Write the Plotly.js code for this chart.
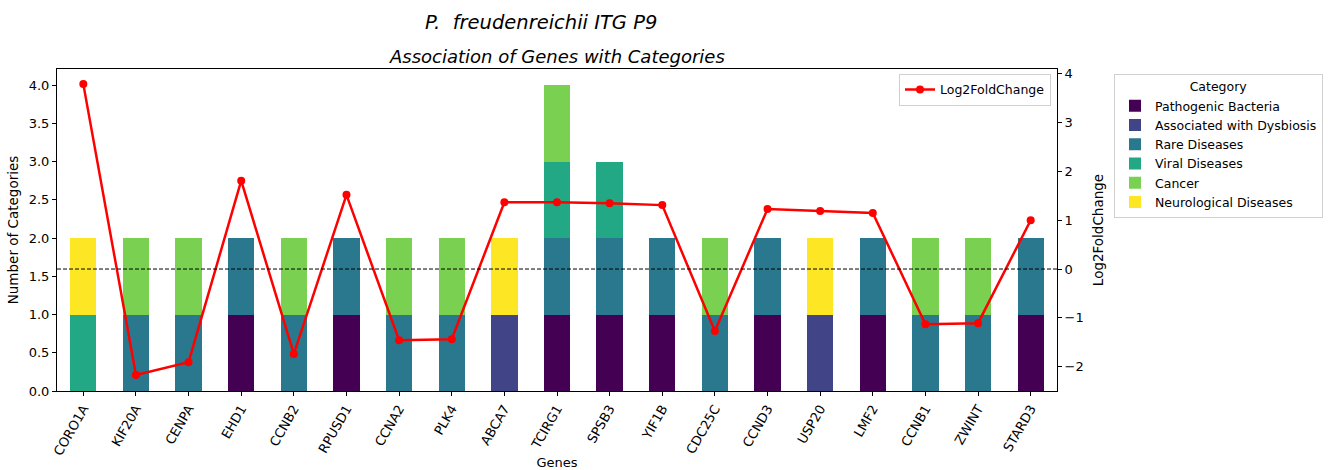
<!DOCTYPE html>
<html><head><meta charset="utf-8">
<script src="https://cdn.plot.ly/plotly-3.0.1.min.js"></script>
<style>html,body{margin:0;padding:0;background:#fff}#chart{width:1329px;height:470px}</style>
</head><body><div id="chart"></div>
<script>
const genes = ["CORO1A","KIF20A","CENPA","EHD1","CCNB2","RPUSD1","CCNA2","PLK4","ABCA7","TCIRG1","SPSB3","YIF1B","CDC25C","CCND3","USP20","LMF2","CCNB1","ZWINT","STARD3"];
const categories = ["Pathogenic Bacteria","Associated with Dysbiosis","Rare Diseases","Viral Diseases","Cancer","Neurological Diseases"];
const pathogenic = [0,0,0,1,0,1,0,0,0,1,1,1,0,1,0,1,0,0,1];
const dysbiosis  = [0,0,0,0,0,0,0,0,1,0,0,0,0,0,1,0,0,0,0];
const rare       = [0,1,1,1,1,1,1,1,0,1,1,1,1,1,0,1,1,1,1];
const viral      = [1,0,0,0,0,0,0,0,0,1,1,0,0,0,0,0,0,0,0];
const cancer     = [0,1,1,0,1,0,1,1,0,1,0,0,1,0,0,0,1,1,0];
const neuro      = [1,0,0,0,0,0,0,0,1,0,0,0,0,0,1,0,0,0,0];
const log2fc = [3.79,-2.17,-1.91,1.81,-1.74,1.52,-1.46,-1.44,1.37,1.37,1.35,1.31,-1.27,1.23,1.19,1.15,-1.13,-1.11,1.00];

const seriesVals = [pathogenic,dysbiosis,rare,viral,cancer,neuro];
const colors = ["#440154","#414487","#2a788e","#22a884","#7ad151","#fde725"];
const xi = genes.map((g,i)=>i);

const traces = categories.map((c,k)=>({
  type:'bar', x:xi, y:seriesVals[k], name:c,
  marker:{color:colors[k], line:{width:0}}, width:0.5,
  legend:'legend', hoverinfo:'x+y+name'
}));
traces.push({
  type:'scatter', mode:'lines+markers', x:xi, y:log2fc, yaxis:'y2',
  name:'Log2FoldChange', line:{color:'#ff0000', width:2.5},
  marker:{color:'#ff0000', size:8}, legend:'legend2'
});

const font = {family:'DejaVu Sans, sans-serif', size:13, color:'#000'};
const layout = {
  width:1329, height:470,
  margin:{l:57, r:272, t:69, b:79, autoexpand:false},
  barmode:'stack', bargap:0.5,
  paper_bgcolor:'#fff', plot_bgcolor:'#fff',
  font:font,
  xaxis:{range:[-0.5,18.5], tickmode:'array', tickvals:xi, ticktext:genes, tickangle:-60, automargin:false,
    showline:true, linecolor:'#000', linewidth:1, mirror:true, ticks:'outside', ticklen:4,
    tickcolor:'#000', showgrid:false, zeroline:false,
    title:{text:'Genes', font:{size:13}, standoff:4}, tickfont:{size:13}},
  yaxis:{range:[0,4.21], tickvals:[0,0.5,1,1.5,2,2.5,3,3.5,4], ticktext:['0.0','0.5','1.0','1.5','2.0','2.5','3.0','3.5','4.0'], automargin:false,
    showline:true, linecolor:'#000', linewidth:1, ticks:'outside', ticklen:4, tickcolor:'#000',
    showgrid:false, zeroline:false, title:{text:'Number of Categories', font:{size:13.5}, standoff:6}, tickfont:{size:13}},
  yaxis2:{overlaying:'y', side:'right', range:[-2.5,4.1], tickvals:[-2,-1,0,1,2,3,4], automargin:false,
    ticktext:['\u22122','\u22121','0','1','2','3','4'],
    showline:true, linecolor:'#000', linewidth:1, ticks:'outside', ticklen:4, tickcolor:'#000',
    showgrid:false, zeroline:false, title:{text:'Log2FoldChange', font:{size:13.5}, standoff:10}, tickfont:{size:13}},
  legend:{x:1.057, y:0.985, xanchor:'left', yanchor:'top', traceorder:'normal',
    title:{text:'Category', side:'top center', font:{size:12.5}},
    bgcolor:'#fff', bordercolor:'#d0d0d0', borderwidth:1, font:{size:12.5}},
  legend2:{x:0.994, y:0.985, xanchor:'right', yanchor:'top',
    bgcolor:'#fff', bordercolor:'#d0d0d0', borderwidth:1, font:{size:12.5}},
  shapes:[{type:'line', xref:'paper', x0:0, x1:1, yref:'y2', y0:0, y1:0,
    line:{color:'#000', width:1, dash:'4px,2px'}}],
  annotations:[
    {text:'<i>P.  freudenreichii ITG P9</i>', xref:'paper', yref:'paper', x:0.484, y:1, yshift:47,
      xanchor:'center', yanchor:'middle', showarrow:false, font:{size:19.5}},
    {text:'<i>Association of Genes with Categories</i>', xref:'paper', yref:'paper', x:0.5, y:1, yshift:13,
      xanchor:'center', yanchor:'middle', showarrow:false, font:{size:18}}
  ]
};
Plotly.newPlot('chart', traces, layout, {displayModeBar:false});
</script></body></html>
